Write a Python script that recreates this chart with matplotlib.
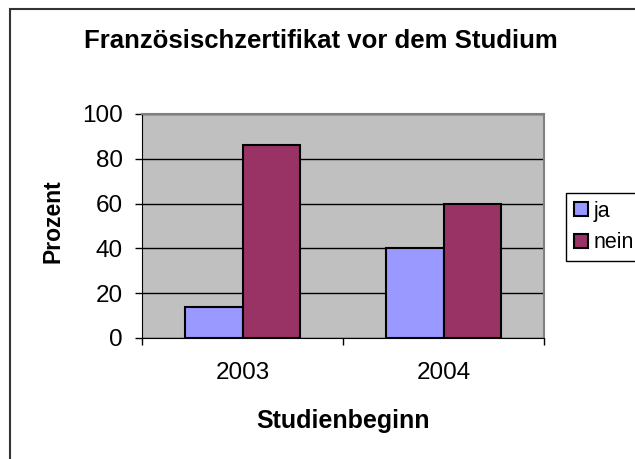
import matplotlib.pyplot as plt
import numpy as np
from matplotlib.patches import Rectangle

# Daten
jahre = ['2003', '2004']
ja = [14, 40]
nein = [86, 60]

plt.rcParams['font.family'] = ['Liberation Sans', 'DejaVu Sans']

fig = plt.figure(figsize=(6.35, 4.59), dpi=100)
ax = fig.add_axes([142/635, 1-338/459, (544-142)/635, (338-114)/459])

x = np.arange(len(jahre))
w = 0.288
ax.bar(x - w/2, ja, w, color='#9999FF', edgecolor='black', linewidth=1.5, label='ja', zorder=3)
ax.bar(x + w/2, nein, w, color='#993366', edgecolor='black', linewidth=1.5, label='nein', zorder=3)

ax.set_facecolor('#C0C0C0')
ax.set_xlim(-0.5, len(jahre) - 0.5)
ax.set_ylim(0, 100)
ax.set_yticks(range(0, 101, 20))
ax.yaxis.grid(True, color='black', linewidth=1, zorder=1)
ax.set_axisbelow(True)

# Kategorie-Ticks an den Grenzen, Beschriftung in der Mitte
ax.set_xticks(np.arange(-0.5, len(jahre), 1.0))
ax.set_xticklabels([])
ax.set_xticks(x, minor=True)
ax.set_xticklabels(jahre, minor=True)
ax.tick_params(axis='x', which='minor', length=0, pad=17, labelsize=17.5)
ax.tick_params(axis='x', which='major', length=5, width=1, color='black')
ax.tick_params(axis='y', length=5, width=1, labelsize=17.5, pad=9)

for s in ['top', 'right']:
    ax.spines[s].set_color('#808080')
    ax.spines[s].set_linewidth(1.5)
ax.spines['left'].set_color('black')
ax.spines['bottom'].set_color('black')

# Achsentitel
fig.text(53/635, 1-221/459, 'Prozent', fontsize=16.5, fontweight='bold',
         rotation=90, ha='center', va='center')
fig.text(343/635, 1-428/459, 'Studienbeginn', fontsize=18, fontweight='bold',
         ha='center', va='baseline')
fig.text(321/635, 1-48/459, 'Französischzertifikat vor dem Studium', fontsize=18.5,
         fontweight='bold', ha='center', va='baseline')

leg = fig.legend(loc='upper left', bbox_to_anchor=(566/635, 1-193/459), fontsize=15.5,
                 borderaxespad=0, handlelength=0.65, handleheight=0.65, handletextpad=0.3,
                 labelspacing=0.5, borderpad=0.35, fancybox=False, edgecolor='black',
                 framealpha=1)
leg.get_frame().set_linewidth(1)

# äußerer Rahmen
fig.patches.append(Rectangle((10/635, -0.1), 1.0, 1.1 - 9/459, transform=fig.transFigure,
                             fill=False, edgecolor='#333333', linewidth=1.5))

fig.savefig('out.png', dpi=100)
